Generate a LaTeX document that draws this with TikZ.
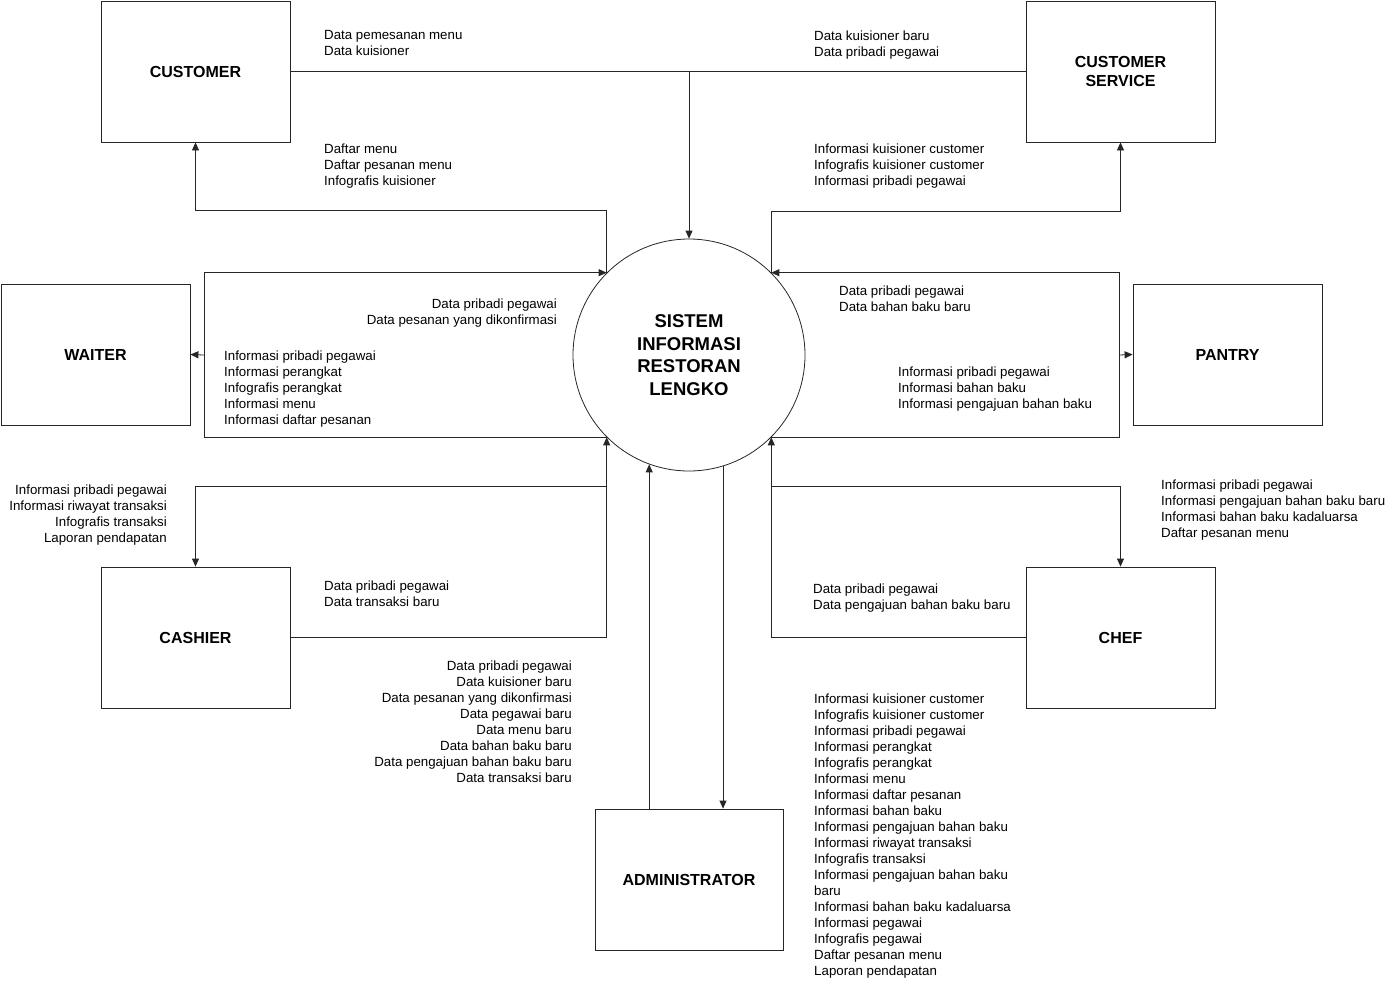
\documentclass[tikz,border=0pt]{standalone}
\usepackage{fontspec}
\setmainfont{Liberation Sans}
\usetikzlibrary{arrows.meta}
\begin{document}
\begin{tikzpicture}[x=1pt,y=-1pt,
  ent/.style={draw=black!85, line width=0.8pt, minimum width=189pt, minimum height=141pt,
    inner sep=0pt, align=center, font=\bfseries\fontsize{16}{19}\selectfont},
  proc/.style={draw=black!85, line width=0.8pt, circle, minimum size=232pt, inner sep=0pt,
    align=center, font=\bfseries\fontsize{18.5}{22.7}\selectfont},
  flow/.style={draw=black!85, line width=0.8pt},
  arr/.style={flow, -{Triangle[length=8pt,width=7pt]}},
  lbl/.style={inner sep=0pt, anchor=north west, align=left, font=\fontsize{13.3}{16}\selectfont},
  rlbl/.style={lbl, anchor=north east, align=right}]
\useasboundingbox (0,0) rectangle (1394,986);

% central process and external entities
\node[proc] (sys) at (689,355) {SISTEM\\INFORMASI\\RESTORAN\\LENGKO};
\node[ent] (cust) at (195.5,71.5) {CUSTOMER};
\node[ent] (cs) at (1120.5,71.5) {CUSTOMER\\SERVICE};
\node[ent] (waiter) at (95.5,354.5) {WAITER};
\node[ent] (pantry) at (1227.5,354.5) {PANTRY};
\node[ent] (cashier) at (195.5,637.5) {CASHIER};
\node[ent] (chef) at (1120.5,637.5) {CHEF};
\node[ent, minimum width=188pt] (admin) at (689,879.5) {ADMINISTRATOR};

% junction points of the loops
\coordinate (wj) at (204,355);
\coordinate (pj) at (1119,355);
\coordinate (cj) at (607,486);
\coordinate (hj) at (771,486);

% customer and customer service
\draw[flow] (cust.east) -- (cs.west);
\draw[arr] (cust.east -| sys.north) -- (sys.north);
\draw[arr] (sys.135) -- ++(0,-62) -| (cust.south);
\draw[arr] (sys.45) -- ++(0,-61) -| (cs.south);

% waiter loop
\draw[arr] (wj) |- (sys.135);
\draw[flow] (sys.225) -| (wj);
\draw[arr] (wj) -- (waiter.east);

% pantry loop
\draw[arr] (pj) |- (sys.45);
\draw[flow] (sys.-45) -| (pj);
\draw[arr] (pj) -- (pantry.west);

% cashier
\draw[arr] (cashier.east) -| (sys.225);
\draw[arr] (cj) -| (cashier.north);

% chef
\draw[arr] (chef.west) -| (sys.-45);
\draw[arr] (hj) -| (chef.north);

% administrator
\draw[arr] (admin.north -| sys.250) -- (sys.250);
\draw[arr] (sys.287) -- (sys.287 |- admin.north);

% flow labels
\node[lbl] (l1) at (324,30.5) {Data pemesanan menu\\Data kuisioner};
\node[lbl] (l2) at (324,144) {Daftar menu\\Daftar pesanan menu\\Infografis kuisioner};
\node[lbl] (l3) at (814,31) {Data kuisioner baru\\Data pribadi pegawai};
\node[lbl] (l4) at (814,144) {Informasi kuisioner customer\\Infografis kuisioner customer\\Informasi pribadi pegawai};
\node[rlbl] (l5) at (557,299) {Data pribadi pegawai\\Data pesanan yang dikonfirmasi};
\node[lbl] (l6) at (224,351) {Informasi pribadi pegawai\\Informasi perangkat\\Infografis perangkat\\Informasi menu\\Informasi daftar pesanan};
\node[lbl] (l7) at (839,286) {Data pribadi pegawai\\Data bahan baku baru};
\node[lbl] (l8) at (898,367) {Informasi pribadi pegawai\\Informasi bahan baku\\Informasi pengajuan bahan baku};
\node[rlbl] (l9) at (167,485) {Informasi pribadi pegawai\\Informasi riwayat transaksi\\Infografis transaksi\\Laporan pendapatan};
\node[lbl] (l10) at (324,581) {Data pribadi pegawai\\Data transaksi baru};
\node[lbl] (l11) at (1161,480) {Informasi pribadi pegawai\\Informasi pengajuan bahan baku baru\\Informasi bahan baku kadaluarsa\\Daftar pesanan menu};
\node[lbl] (l12) at (813,584) {Data pribadi pegawai\\Data pengajuan bahan baku baru};
\node[rlbl] (l13) at (572,661) {Data pribadi pegawai\\Data kuisioner baru\\Data pesanan yang dikonfirmasi\\Data pegawai baru\\Data menu baru\\Data bahan baku baru\\Data pengajuan bahan baku baru\\Data transaksi baru};
\node[lbl] (l14) at (814,694) {Informasi kuisioner customer\\Infografis kuisioner customer\\Informasi pribadi pegawai\\Informasi perangkat\\Infografis perangkat\\Informasi menu\\Informasi daftar pesanan\\Informasi bahan baku\\Informasi pengajuan bahan baku\\Informasi riwayat transaksi\\Infografis transaksi\\Informasi pengajuan bahan baku\\baru\\Informasi bahan baku kadaluarsa\\Informasi pegawai\\Infografis pegawai\\Daftar pesanan menu\\Laporan pendapatan};
\end{tikzpicture}
\end{document}
